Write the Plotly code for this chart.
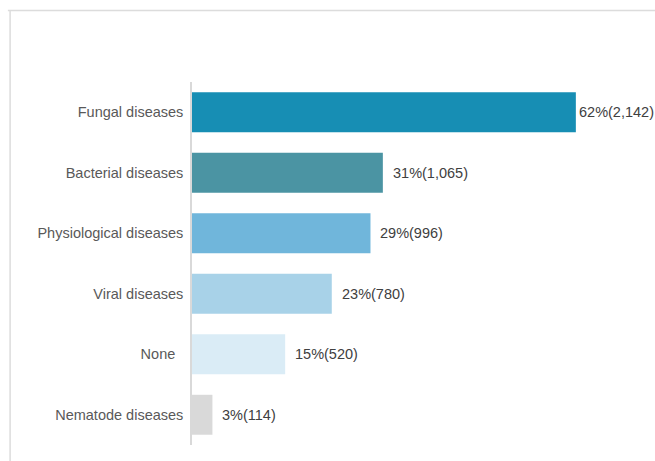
import plotly.graph_objects as go

# Disease categories reported, with share of respondents and counts
categories = ["Fungal diseases", "Bacterial diseases", "Physiological diseases",
              "Viral diseases", "None", "Nematode diseases"]
tick_labels = ["Fungal diseases", "Bacterial diseases", "Physiological diseases",
               "Viral diseases", "None\u00a0\u00a0", "Nematode diseases"]
percents = [62, 31, 29, 23, 15, 3]
counts = [2142, 1065, 996, 780, 520, 114]
bar_colors = ["#178eb4", "#4b94a3", "#70b6db", "#a8d2e8", "#daecf6", "#d9d9d9"]

labels = [f"{p}%({c:,})" for p, c in zip(percents, counts)]
label_font = "Liberation Sans Narrow, Arial Narrow, Liberation Sans, Arial, sans-serif"

fig = go.Figure(
    go.Bar(
        x=counts,
        y=categories,
        orientation="h",
        marker=dict(color=bar_colors, line=dict(width=0)),
        width=0.66,
        hoverinfo="skip",
    )
)

# Value labels just past the end of each bar
for cat, val, txt in zip(categories, counts, labels):
    fig.add_annotation(
        x=val, y=cat, text=txt, showarrow=False,
        xanchor="left", yanchor="middle",
        xshift=1 if val > 2000 else 8,
        font=dict(family=label_font, size=14.5, color="#404040"),
    )

# Light frame lines around the chart panel
frame = "#dcdcdc"
fig.add_shape(type="line", xref="paper", yref="paper",
              x0=-0.411, x1=1.04, y0=1.197, y1=1.197,
              line=dict(color=frame, width=1.5))
fig.add_shape(type="line", xref="paper", yref="paper",
              x0=-0.406, x1=-0.406, y0=1.197, y1=-0.05,
              line=dict(color=frame, width=1.5))

fig.update_layout(
    width=655, height=461,
    margin=dict(l=192, r=15, t=82, b=16),
    paper_bgcolor="white", plot_bgcolor="white",
    showlegend=False,
    bargap=0.34,
)
fig.update_xaxes(range=[0, 2500], visible=False, showgrid=False, zeroline=False)
fig.update_yaxes(
    autorange="reversed",
    tickmode="array", tickvals=categories, ticktext=tick_labels,
    showgrid=False, zeroline=False,
    showline=True, linecolor="#d9d9d9", linewidth=1.5,
    ticks="", ticklabelstandoff=4,
    tickfont=dict(family=label_font, size=14.5, color="#595959"),
)

fig.write_html("out.html")
